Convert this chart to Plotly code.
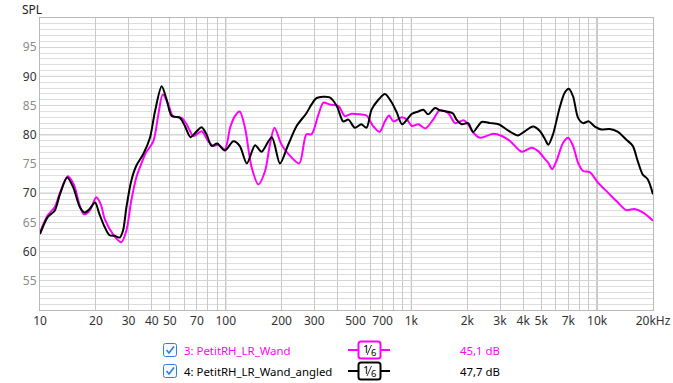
import plotly.graph_objects as go

# ---------------- data ----------------
wand_freq = [10, 11, 12, 12.8, 14.1, 15.2, 16.4, 17.2, 18.5, 20.1, 21.3, 22.3, 24.7, 27.4, 29.2, 31, 33,
             34.5, 37, 40.8, 43.4, 45.8, 49.1, 52, 57.9, 61.6, 67, 74.2, 80.5, 85.6, 91, 98.9, 105.6, 112,
             119, 127, 138, 150, 163, 173, 183, 200, 222, 249, 272, 290, 316, 336, 363, 405, 438, 476, 528,
             573, 622, 675, 720, 758, 800, 890, 946, 1007, 1090, 1190, 1310, 1420, 1580, 1720, 1910, 2020,
             2150, 2340, 2770, 3070, 3410, 3930, 4440, 4820, 5250, 5460, 5730, 6040, 6550, 6980, 7420, 7900,
             8410, 9130, 10110, 11450, 12950, 14340, 15880, 17600, 20000]
wand_spl = [63.3, 66.2, 67.6, 70.0, 72.9, 71.5, 67.8, 66.4, 67.0, 69.3, 68.0, 65.6, 63.0, 61.6, 63.6, 68.7, 72.7,
            74.4, 76.8, 78.9, 83.5, 86.9, 85.2, 83.2, 82.9, 81.8, 79.8, 80.6, 78.9, 78.1, 78.3, 77.5, 81.2, 83.2,
            84.0, 81.2, 74.4, 71.5, 73.8, 78.3, 81.2, 78.3, 76.4, 75.1, 80.1, 80.1, 83.5, 85.5, 85.2, 84.9, 83.2,
            83.6, 83.5, 83.3, 81.5, 80.5, 82.3, 83.3, 82.3, 83.0, 82.6, 81.5, 81.8, 81.1, 82.6, 84.2, 83.7, 82.0,
            82.5, 81.8, 80.4, 79.5, 80.2, 79.8, 78.9, 77.1, 77.8, 77.2, 75.8, 75.2, 74.1, 75.5, 78.6, 79.5, 78.1,
            75.2, 73.8, 73.6, 71.8, 70.1, 68.4, 67.1, 67.3, 66.7, 65.3]

angled_freq = [10, 11, 12, 12.8, 14, 15.1, 16.4, 17.4, 18.5, 19.8, 20.9, 22.3, 23.7, 25.2, 26.9, 28, 29.2, 31,
               33, 36, 39.1, 41.6, 45.2, 48.1, 51.2, 56.7, 60.3, 64.7, 69.8, 74.2, 78.8, 84, 90, 98.9, 110,
               119, 130, 144, 156, 177, 196, 217, 241, 272, 290, 309, 363, 397, 429, 458, 496, 537, 573, 610,
               664, 720, 785, 837, 890, 946, 1007, 1090, 1160, 1230, 1340, 1420, 1540, 1670, 1750, 1870, 2020,
               2150, 2390, 2650, 2950, 3330, 3750, 4080, 4520, 4930, 5250, 5460, 5790, 6280, 6690, 7040, 7420,
               7900, 8410, 9020, 9720, 10550, 11690, 12950, 14340, 15560, 16550, 17600, 18730, 20000]
angled_spl = [63.0, 65.9, 67.0, 69.8, 72.7, 71.0, 67.6, 66.7, 67.3, 68.4, 66.4, 64.2, 62.8, 62.7, 62.4, 63.6,
              67.6, 72.1, 74.7, 76.7, 79.5, 84.0, 88.3, 86.0, 83.2, 82.9, 81.5, 79.6, 80.6, 81.3, 80.1, 78.1,
              78.5, 77.3, 78.9, 78.1, 75.1, 78.2, 77.1, 79.6, 75.1, 78.3, 81.5, 83.7, 85.2, 86.3, 86.4, 84.9,
              82.3, 82.6, 81.2, 81.8, 81.2, 84.3, 86.0, 87.0, 85.5, 83.7, 81.8, 82.6, 83.6, 84.0, 84.3, 83.5,
              84.6, 84.2, 84.0, 83.7, 82.6, 81.8, 82.0, 80.5, 82.2, 82.0, 81.8, 80.7, 79.9, 80.6, 81.4, 80.6,
              79.2, 78.3, 80.1, 84.6, 87.2, 87.9, 86.6, 82.9, 82.0, 82.3, 81.4, 80.9, 81.0, 80.5, 79.2, 78.1,
              75.5, 73.2, 72.4, 69.8]

x_tick_vals = [10, 20, 30, 40, 50, 60, 70, 80, 90,
               100, 200, 300, 400, 500, 600, 700, 800, 900,
               1000, 2000, 3000, 4000, 5000, 6000, 7000, 8000, 9000,
               10000, 20000]
x_tick_text = ["10", "20", "30", "40", "50", "", "70", "", "",
               "100", "200", "300", "", "500", "", "700", "", "",
               "1k", "2k", "3k", "4k", "5k", "", "7k", "", "",
               "10k", "20kHz"]
x_decade_vals = [100, 1000, 10000]
y_tick_vals = [55, 60, 65, 70, 75, 80, 85, 90, 95]
y_major_vals = [60, 70, 80, 90]

series_names = ["3: PetitRH_LR_Wand", "4: PetitRH_LR_Wand_angled"]
series_levels = ["45,1 dB", "47,7 dB"]
series_colors = ["#ff00ff", "#000000"]
smoothing_num, smoothing_den = "1", "6"

# ---------------- geometry ----------------
W, H = 673, 383
L, R, T, B = 40, 653, 18, 310
FONT = "Noto Sans"
FS = 11.4


def px(x):
    return (x - L) / (R - L)


def py(y):
    return (B - y) / (B - T)


fig = go.Figure()
fig.add_trace(go.Scatter(x=wand_freq, y=wand_spl, mode="lines",
                         line=dict(color=series_colors[0], width=2, shape="spline", smoothing=0.8),
                         hoverinfo="skip", showlegend=False))
fig.add_trace(go.Scatter(x=angled_freq, y=angled_spl, mode="lines",
                         line=dict(color=series_colors[1], width=2, shape="spline", smoothing=0.8),
                         hoverinfo="skip", showlegend=False))

y_text = []
for v in y_tick_vals:
    col = "#333333" if v in y_major_vals else "#8c8c8c"
    y_text.append(f'<span style="color:{col}">{v}</span>')

fig.update_layout(
    width=W, height=H,
    margin=dict(l=L, r=W - R, t=T, b=H - B, pad=0),
    paper_bgcolor="white", plot_bgcolor="white",
    font=dict(family=FONT, size=FS, color="#333333"),
    xaxis=dict(type="log", range=[1, 4.30103], tickvals=x_tick_vals, ticktext=x_tick_text,
               showgrid=True, gridcolor="#c8c8c8", gridwidth=1, zeroline=False, automargin=False,
               showline=True, mirror=True, linecolor="#b9b9b9", linewidth=1, ticks="",
               tickfont=dict(size=12, color="#333333")),
    yaxis=dict(range=[50, 100], tickvals=y_tick_vals, ticktext=y_text, automargin=False,
               showgrid=True, gridcolor="#d6d6d6", gridwidth=1, zeroline=False,
               showline=True, mirror=True, linecolor="#b9b9b9", linewidth=1, ticks="",
               tickfont=dict(size=12),
               minor=dict(dtick=1, showgrid=True, gridcolor="#dedede", gridwidth=1, ticks="")),
)

shapes = []
for v in y_major_vals:
    shapes.append(dict(type="line", xref="paper", yref="y", x0=0, x1=1, y0=v, y1=v,
                       line=dict(color="#b4b4b4", width=1), layer="below"))
for v in x_decade_vals:
    shapes.append(dict(type="line", xref="x", yref="paper", x0=v, x1=v, y0=0, y1=1,
                       line=dict(color="#7f7f7f", width=1), layer="below"))


def rrect(x0, y0, x1, y1, r):
    pts = [
        f"M {px(x0 + r)},{py(y0)}",
        f"L {px(x1 - r)},{py(y0)}",
        f"Q {px(x1)},{py(y0)} {px(x1)},{py(y0 + r)}",
        f"L {px(x1)},{py(y1 - r)}",
        f"Q {px(x1)},{py(y1)} {px(x1 - r)},{py(y1)}",
        f"L {px(x0 + r)},{py(y1)}",
        f"Q {px(x0)},{py(y1)} {px(x0)},{py(y1 - r)}",
        f"L {px(x0)},{py(y0 + r)}",
        f"Q {px(x0)},{py(y0)} {px(x0 + r)},{py(y0)}",
        "Z",
    ]
    return " ".join(pts)


annotations = [dict(text="SPL", x=px(20), y=py(10), xref="paper", yref="paper", xanchor="left",
                    yanchor="middle", showarrow=False, font=dict(size=12, color="#222222"))]

rows_y = [350, 371]
for i, yc in enumerate(rows_y):
    col = series_colors[i]
    # checkbox
    shapes.append(dict(type="path", xref="paper", yref="paper",
                       path=rrect(163.5, yc - 6.5, 176.5, yc + 6.5, 2),
                       line=dict(color="#2f7fd8", width=1), fillcolor="#f4f9ff"))
    shapes.append(dict(type="path", xref="paper", yref="paper",
                       path=f"M {px(166.5)},{py(yc)} L {px(169)},{py(yc + 3)} L {px(174)},{py(yc - 3.5)}",
                       line=dict(color="#2f7fd8", width=1.6)))
    annotations.append(dict(text=series_names[i], x=px(182), y=py(yc), xref="paper", yref="paper",
                            xanchor="left", yanchor="middle", showarrow=False,
                            font=dict(size=FS, color=col)))
    # line symbol with box
    shapes.append(dict(type="line", xref="paper", yref="paper", x0=px(348), x1=px(390), y0=py(yc), y1=py(yc),
                       line=dict(color=col, width=2)))
    shapes.append(dict(type="path", xref="paper", yref="paper",
                       path=rrect(358.5, yc - 8.5, 380.5, yc + 8.5, 2.5),
                       line=dict(color=col, width=2), fillcolor="white"))
    shapes.append(dict(type="line", xref="paper", yref="paper",
                       x0=px(367), x1=px(371.5), y0=py(yc + 5), y1=py(yc - 5),
                       line=dict(color="#000000", width=0.8)))
    annotations.append(dict(text=smoothing_num, x=px(365.5), y=py(yc - 1.5), xref="paper", yref="paper",
                            xanchor="center", yanchor="middle", showarrow=False,
                            font=dict(size=11, color="#000000")))
    annotations.append(dict(text=smoothing_den, x=px(373.5), y=py(yc + 2), xref="paper", yref="paper",
                            xanchor="center", yanchor="middle", showarrow=False,
                            font=dict(size=9.5, color="#000000")))
    annotations.append(dict(text=series_levels[i], x=px(458), y=py(yc), xref="paper", yref="paper",
                            xanchor="left", yanchor="middle", showarrow=False,
                            font=dict(size=FS, color=col)))

fig.update_layout(shapes=shapes, annotations=annotations)
fig.write_html("out.html")
